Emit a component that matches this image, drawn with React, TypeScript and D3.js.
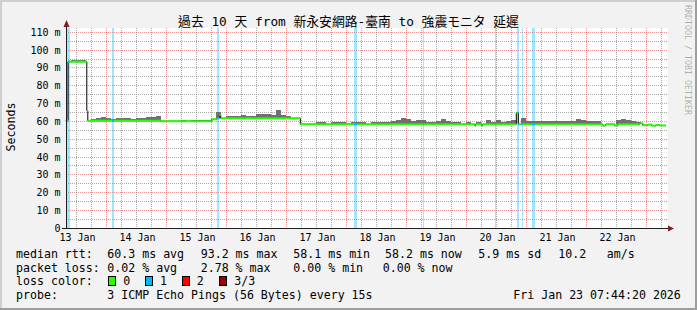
import React from "react";
import * as d3 from "d3";

const W = 697;
const H = 310;

const startTime = new Date("2026-01-13T07:44:20Z");
const endTime = new Date("2026-01-23T07:44:20Z");

// median RTT (ms) as steps: hours since start -> value
const medianHours = [0, 0.9, 8.4, 8.8, 38, 58.4, 60.4, 61.4, 62, 93.8, 163.6, 164, 166.4, 166.8, 180.2, 181, 214.8, 216, 219.6, 220.8, 229.6, 230.8, 232.8, 234.4, 236, 237.6];
const medianValues = [60.5, 93.5, 66, 60.4, 60.1, 61.2, 61.8, 63.4, 61.7, 58.4, 57.6, 58.4, 57.6, 58.4, 64.8, 58.4, 57.6, 58.4, 57.6, 58.4, 58.9, 57.8, 58.2, 57.6, 58.0, 57.7];

// top of the smoke (max ping, ms) per 2-hour bucket, 0 = no smoke visible
const smokeTop = [
  0, 94.2, 94.2, 94.2, 0, 61.6, 62.0, 62.5, 62.0, 61.6,
  61.8, 62.0, 61.8, 61.6, 62.0, 61.8, 62.2, 62.5, 63.0, 0,
  0, 0, 0, 61.0, 0, 61.0, 61.0, 61.0, 61.0, 0,
  65.0, 62.0, 63.0, 63.0, 63.0, 63.3, 62.8, 63.0, 64.3, 64.0,
  64.0, 63.5, 66.2, 63.6, 62.8, 0, 0, 0, 0, 0,
  59.5, 59.6, 0, 59.6, 59.6, 59.5, 0, 59.6, 59.6, 59.8,
  0, 59.8, 59.8, 59.8, 59.8, 60.0, 61.0, 61.7, 61.3, 60.2,
  60.8, 61.0, 59.8, 59.6, 60.4, 61.5, 60.0, 59.8, 59.6, 0,
  59.6, 0, 59.6, 0, 60.6, 59.8, 60.6, 59.8, 60.4, 60.6,
  0, 62.1, 60.2, 60.2, 60.1, 60.1, 60.1, 60.2, 60.1, 60.1,
  60.0, 60.3, 61.2, 61.0, 60.4, 60.4, 60.3, 0, 0, 0,
  60.8, 61.2, 61.0, 60.0, 59.8, 0, 0, 0, 0, 0,
];

// packet loss events (hours since start), 1 of 3 pings lost
const lossStartHours = [0.3, 18.5, 60.4, 115.2, 142.8, 171.6, 180.4, 182.4, 186.4];
const lossEndHours = [1.5, 19.2, 61.2, 116.4, 143.2, 172.0, 181.2, 182.8, 187.6];

const yTickValues = [0, 10, 20, 30, 40, 50, 60, 70, 80, 90, 100, 110];
const lossLabels = ["0", "1", "2", "3/3"];
const lossColors = ["#26ff00", "#00b8ff", "#ff0000", "#a10000"];

const titleText = "過去 10 天 from 新永安網路-臺南 to 強震モニタ 延遲";
const medianStats = ["60.3 ms avg", "93.2 ms max", "58.1 ms min", "58.2 ms now", "5.9 ms sd", "10.2", "am/s"];
const lossStats = ["0.02 % avg", "2.78 % max", "0.00 % min", "0.00 % now"];
const probeText = "3 ICMP Echo Pings (56 Bytes) every 15s";
const dateText = "Fri Jan 23 07:44:20 2026";

const MONO = '"DejaVu Sans Mono", "Noto Sans CJK TC", monospace';

export default function App() {
  const plotL = 66, plotR = 668, plotT = 28, plotB = 228.3;
  const x = d3.scaleUtc().domain([startTime, endTime]).range([65.8, 665.8]);
  const y = d3.scaleLinear().domain([0, 112.4]).range([plotB, plotT]);
  const hx = (h: number) => x(new Date(startTime.getTime() + h * 3600e3));
  const totalH = 240;

  const medAt = (h: number) => {
    let v = medianValues[0];
    for (let i = 0; i < medianHours.length; i++) if (medianHours[i] <= h) v = medianValues[i];
    return v;
  };

  const hourTicks = d3.utcHour.every(6)!.range(startTime, endTime);
  const dayLabels = d3.utcDay
    .range(d3.utcDay.floor(startTime), endTime)
    .map((d) => d3.utcHour.offset(d, 12))
    .filter((d) => d > startTime && d < endTime);
  const fmt = d3.utcFormat("%d %b");

  const hLines: { v: number; major: boolean }[] = [];
  for (let v = 5; v <= 112; v += 5) hLines.push({ v, major: v % 10 === 0 });

  const segs = medianHours.map((h, i) => ({
    x0: hx(h),
    x1: hx(i + 1 < medianHours.length ? medianHours[i + 1] : totalH),
    y: y(medianValues[i]),
  }));
  let blackPath = "";
  segs.forEach((s, i) => {
    blackPath += i === 0 ? `M${s.x0},${s.y}` : `V${s.y}`;
    blackPath += `H${s.x1}`;
  });

  const legendX = [107.3, 200.7, 293.3, 385, 478.3, 558.3, 606.7];
  const lossX = [107.3, 200.7, 293.3, 382.7];
  const boxX = [108.5, 145.5, 182.5, 219.5];
  const boxLabelX = [123.3, 160, 196.7, 234.3];

  return (
    <svg width={W} height={H} style={{ position: "absolute", left: 0, top: 0, display: "block" }}>
      <defs>
        {lossStartHours.map((h, i) => (
          <clipPath id={`lc${i}`} key={i}>
            <rect x={Math.round(hx(h))} y={0} width={Math.max(1, Math.round(hx(lossEndHours[i]) - hx(h)))} height={H} />
          </clipPath>
        ))}
      </defs>
      <rect x={0} y={0} width={W} height={H} fill="#f2f2f2" />
      <rect x={0} y={0} width={W} height={2} fill="#cfcfcf" />
      <rect x={0} y={0} width={2} height={H} fill="#cfcfcf" />
      <rect x={0} y={H - 2} width={W} height={2} fill="#9e9e9e" />
      <rect x={W - 2} y={0} width={2} height={H} fill="#9e9e9e" />

      <rect x={plotL} y={plotT} width={plotR - plotL} height={plotB - plotT} fill="#ffffff" />

      <g shapeRendering="crispEdges" strokeDasharray="1,1" strokeWidth={1}>
        {hLines.map((l) => (
          <line key={`h${l.v}`} x1={plotL} x2={plotR} y1={y(l.v)} y2={y(l.v)}
            stroke={l.major ? "rgba(222,79,79,0.6)" : "rgba(143,143,143,0.75)"} />
        ))}
        {hourTicks.map((d) => (
          <line key={`v${d.getTime()}`} x1={x(d)} x2={x(d)} y1={plotT} y2={plotB}
            stroke={d.getUTCHours() === 0 ? "rgba(222,79,79,0.6)" : "rgba(143,143,143,0.75)"} />
        ))}
      </g>

      <g shapeRendering="crispEdges">
        {lossStartHours.map((h, i) => (
          <rect key={i} x={Math.round(hx(h))} y={plotT} width={Math.max(1, Math.round(hx(lossEndHours[i]) - hx(h)))} height={plotB - plotT}
            fill={lossColors[1]} fillOpacity={0.36} />
        ))}
      </g>

      <g shapeRendering="crispEdges">
        {smokeTop.map((v, i) => {
          if (!v) return null;
          const h0 = i * 2, h1 = i * 2 + 2;
          const m = medAt(h0 + 1);
          if (v <= m) return null;
          return (
            <rect key={i} x={hx(h0)} width={hx(h1) - hx(h0)} y={y(v)} height={y(m) - y(v)} fill="#707070" />
          );
        })}
      </g>

      <path d={blackPath} fill="none" stroke="#000" strokeWidth={1} />
      {segs.map((s, i) => (
        <line key={i} x1={s.x0} x2={s.x1} y1={s.y} y2={s.y} stroke={lossColors[0]} strokeWidth={2} />
      ))}
      {lossStartHours.map((_, j) => (
        <g key={j} clipPath={`url(#lc${j})`}>
          {segs.map((s, i) => (
            <line key={i} x1={s.x0} x2={s.x1} y1={s.y} y2={s.y} stroke={lossColors[1]} strokeWidth={2} />
          ))}
        </g>
      ))}

      <g shapeRendering="crispEdges" stroke="#1f1f1f">
        <line x1={62} x2={669} y1={228.5} y2={228.5} />
        <line x1={66.5} x2={66.5} y1={24} y2={229} />
      </g>
      <path d="M63.5,27 L66.5,20 L69.5,27 Z" fill="#801f1f" />
      <path d="M668,225.5 L674,228.5 L668,231.5 Z" fill="#801f1f" />

      <g fontFamily={MONO} fontSize={10} fill="#000" textAnchor="end">
        {yTickValues.map((v) => (
          <text key={v} x={60.5} y={y(v) + 3.5}>{v === 0 ? "0" : `${v} m`}</text>
        ))}
      </g>
      <g fontFamily={MONO} fontSize={10} fill="#000" textAnchor="middle">
        {dayLabels.map((d) => (
          <text key={d.getTime()} x={x(d) + 1} y={241}>{fmt(d)}</text>
        ))}
      </g>

      <text x={348.5} y={25.5} fontFamily={MONO} fontSize={12.8} textAnchor="middle" fill="#000">{titleText}</text>
      <text transform="translate(14.5,127) rotate(-90)" fontFamily={MONO} fontSize={11.6} textAnchor="middle" fill="#000">Seconds</text>
      <text transform="translate(684.5,60) rotate(90)" fontFamily={MONO} fontSize={8.3} textAnchor="middle" fill="#000" fillOpacity={0.3}>RRDTOOL / TOBI OETIKER</text>

      <g fontFamily={MONO} fontSize={11.6} fill="#000">
        <text x={16} y={258}>median rtt:</text>
        {medianStats.map((t, i) => (
          <text key={t} x={legendX[i]} y={258}>{t}</text>
        ))}
        <text x={16} y={271.6}>packet loss:</text>
        {lossStats.map((t, i) => (
          <text key={t} x={lossX[i]} y={271.6}>{t}</text>
        ))}
        <text x={16} y={285.2}>loss color:</text>
        {lossLabels.map((t, i) => (
          <g key={t}>
            <rect x={boxX[i]} y={276.5} width={7} height={9} fill={lossColors[i]} stroke="#000" strokeWidth={1} shapeRendering="crispEdges" />
            <text x={boxLabelX[i]} y={285.2}>{t}</text>
          </g>
        ))}
        <text x={16} y={299}>probe:</text>
        <text x={107.3} y={299}>{probeText}</text>
        <text x={513.3} y={299}>{dateText}</text>
      </g>
    </svg>
  );
}
